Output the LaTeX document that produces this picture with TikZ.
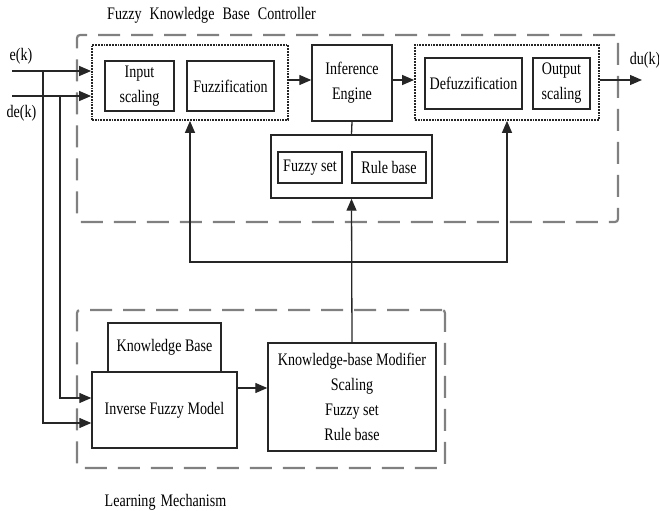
\documentclass[tikz,border=0pt]{standalone}
\usepackage{fontspec}
\setmainfont{Liberation Serif}[FakeStretch=0.8]
\usetikzlibrary{arrows.meta,calc}
\begin{document}
\begin{tikzpicture}[x=1pt,y=-1pt,
  font=\fontsize{17.6}{25}\selectfont,
  blk/.style={draw=black!85, line width=1.4pt, align=center, inner sep=0pt},
  dotbox/.style={draw=black!85, line width=1.8pt, densely dotted, inner sep=0pt},
  grp/.style={draw=gray, line width=2.2pt, dash pattern=on 22pt off 11pt, rounded corners=3pt, inner sep=0pt},
  conn/.style={draw=black!85, line width=1.3pt},
  arr/.style={conn, -{Triangle[length=12pt,width=10pt]}},
]
\useasboundingbox (0,0) rectangle (659,511);

% group frames
\node[grp, minimum width=541pt, minimum height=187pt] (fkbc) at (347.5,128.5) {};
\node[grp, minimum width=368pt, minimum height=158pt] (lrn) at (261,389) {};

% controller blocks
\node[dotbox, minimum width=196pt, minimum height=75pt] (lefdot) at (190,82.5) {};
\node[blk, minimum width=69pt, minimum height=50pt] (inscale) at (139.5,86) {Input\\scaling};
\node[blk, minimum width=87pt, minimum height=50pt] (fuzz) at (230.5,86) {Fuzzification};
\node[blk, minimum width=80pt, minimum height=76pt] (infer) at (352,83) {Inference\\Engine};
\node[dotbox, minimum width=184pt, minimum height=75pt] (rightdot) at (507,82.5) {};
\node[blk, minimum width=97pt, minimum height=51pt] (defuzz) at (473.5,83.5) {Defuzzification};
\node[blk, minimum width=57pt, minimum height=51pt] (outscale) at (561.5,83.5) {Output\\scaling};
\node[blk, minimum width=161pt, minimum height=63pt] (kbc) at (351.5,166.5) {};
\node[blk, minimum width=64pt, minimum height=31pt] (fset) at (310,167.5) {Fuzzy set};
\node[blk, minimum width=74pt, minimum height=31pt] (rbase) at (389,167.5) {Rule base};

% learning blocks
\node[blk, minimum width=113pt, minimum height=49pt] (kb) at (164.5,347.5) {Knowledge Base};
\node[blk, fill=white, minimum width=145pt, minimum height=76pt] (ifm) at (164.5,410) {Inverse Fuzzy Model};
\node[blk, minimum width=168pt, minimum height=108pt] (kbm) at (352,397)
  {Knowledge-base Modifier\\Scaling\\Fuzzy set\\Rule base};

% labels
\node (title) at (211.5,15) {Fuzzy\hspace{8pt}Knowledge\hspace{8pt}Base\hspace{8pt}Controller};
\node (lm) at (165.5,502) {Learning\hspace{5pt}Mechanism};
\node (ek) at (21,56) {e(k)};
\node (dek) at (21.5,113) {de(k)};
\node (duk) at (645,60) {du(k)};

% signal coordinates
\coordinate (ein) at (12,71);
\coordinate (dein) at (12,96);
\coordinate (eJ) at (43,71);
\coordinate (deJ) at (60,96);
\coordinate (yE) at (0,423);
\coordinate (yDE) at (0,398);
\coordinate (yA) at (0,80);
\coordinate (yB) at (0,388);
\coordinate (dukend) at (642,80);
\coordinate (fb) at (351,262);

% connectors
\draw[arr] (ein) -- (ein -| lefdot.west);
\draw[arr] (dein) -- (dein -| lefdot.west);
\draw[arr] (eJ) |- (ifm.west |- yE);
\draw[arr] (deJ) |- (ifm.west |- yDE);
\draw[arr] (lefdot.east |- yA) -- (infer.west |- yA);
\draw[arr] (infer.east |- yA) -- (rightdot.west |- yA);
\draw[arr] (rightdot.east |- yA) -- (dukend);
\draw[conn] (infer.south) -- (kbc.north);
\draw[arr] (kbm.north) -- (kbc.south);
\draw[arr] (fb) -| (lefdot.south);
\draw[arr] (fb) -| (rightdot.south);
\draw[arr] (ifm.east |- yB) -- (kbm.west |- yB);
\end{tikzpicture}
\end{document}
